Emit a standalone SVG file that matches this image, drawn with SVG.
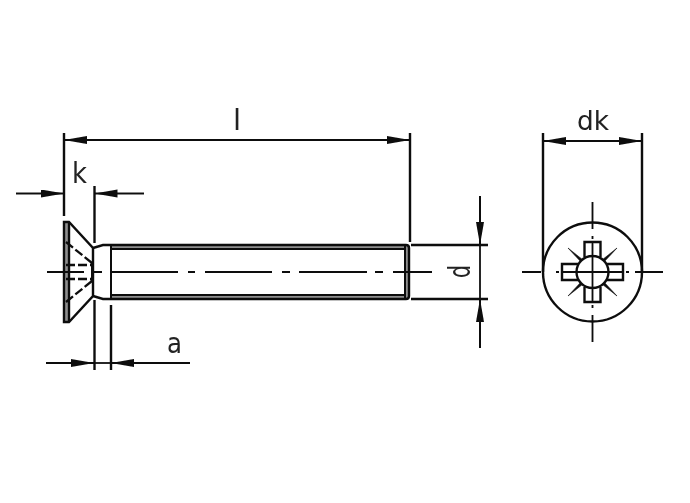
<svg xmlns="http://www.w3.org/2000/svg" width="690" height="503" viewBox="0 0 690 503">
<style>
.l{fill:none;stroke:#111;stroke-width:2.4}
.t{fill:none;stroke:#111;stroke-width:2}
.c{fill:none;stroke:#111;stroke-width:1.8}
.h{fill:none;stroke:#111;stroke-width:2.3;stroke-dasharray:9 3}
.g{fill:#8f8f8f;stroke:none}
.a{fill:none;stroke:#111;stroke-width:2;marker-end:url(#ah)}
.w{fill:#111;stroke:#111;stroke-width:.6;stroke-linejoin:round}
text{font-family:"DejaVu Sans","Liberation Sans",sans-serif;fill:#222}
</style>
<defs>
<marker id="ah" markerUnits="userSpaceOnUse" markerWidth="24" markerHeight="10" refX="23" refY="4" orient="auto"><path d="M0 0L23 4L0 8Z" fill="#111"/></marker>
<filter id="soft" x="0" y="0" width="100%" height="100%"><feGaussianBlur stdDeviation="0.45"/></filter>
</defs>
<rect width="690" height="503" fill="#fff"/>
<g filter="url(#soft)">
<g id="screw-side">
<rect class="g" x="64" y="223" width="5" height="98"/>
<rect class="g" x="111" y="245" width="298" height="4"/>
<rect class="g" x="111" y="295" width="298" height="4"/>
<rect class="g" x="405" y="247" width="4" height="50"/>
<path class="l" d="M64 222V322H69L93 296V248L69 222Z"/>
<path class="l" d="M69 222V322"/>
<path class="l" d="M93 248L103 245H406Q409 245 409 248V296Q409 299 406 299H103L93 296"/>
<path class="t" d="M111 245V299M111 249H405V295H111"/>
<path class="t" d="M405 245V299"/>
<path class="h" d="M66 242L92 263M66 302L92 281M66 265H92M66 279H92"/>
<path class="t" d="M92 262V282"/>
<path class="c" d="M47 272H84M93 272H102M112 272H178M188 272H195M205 272H272M282 272H290M299 272H367M375 272H383M393 272H432"/>
</g>
<g id="screw-end">
<circle class="l" cx="592.5" cy="272" r="49.5"/>
<path class="w" d="M568 248L583 260L581 262ZM617 248L602 260L604 262ZM568 296L583 284L581 282ZM617 296L602 284L604 282Z"/>
<circle class="l" cx="592.5" cy="272" r="16" style="fill:#fff"/>
<path class="l" d="M584.500 257V242H600.500V257M584.500 287V302H600.500V287M578 264H562V280H578M607 264H623V280H607"/>
<path class="c" d="M522 272H541M556 272H559M562 272H623M626 272H629M635 272H663M592.500 202V229M592.500 236V239M592.500 242V302M592.500 305V308M592.500 315V342"/>
</g>
<g id="connectors">
<path class="l" d="M64 133V216M410 133V242M94.500 186V243M94.500 300V370M111 305V370"/>
<path class="a" d="M100 140H64"/>
<path class="a" d="M375 140H410"/>
<path class="c" d="M64 140H410"/>
<path class="a" d="M16 193.500H64"/>
<path class="a" d="M144 193.500H94.500"/>
<path class="a" d="M46 363H94"/>
<path class="a" d="M190 363H111"/>
<path class="c" d="M94 363H111"/>
<path class="l" d="M411 245H488M411 299H488"/>
<path class="a" d="M480 196V245"/>
<path class="a" d="M480 348V299"/>
<path class="c" d="M480 245V299"/>
<path class="l" d="M543 133V272M642 133V272"/>
<path class="a" d="M580 141H543"/>
<path class="a" d="M605 141H642"/>
<path class="c" d="M543 141H642"/>
</g>
<g id="labels">
<text x="233" y="130" font-size="29">l</text>
<text x="72" y="183" font-size="29" textLength="15" lengthAdjust="spacingAndGlyphs">k</text>
<text x="167" y="353" font-size="28" textLength="15" lengthAdjust="spacingAndGlyphs">a</text>
<text x="577" y="130" font-size="26" textLength="32" lengthAdjust="spacingAndGlyphs">dk</text>
<text transform="translate(470 278) rotate(-90)" font-size="31" textLength="13" lengthAdjust="spacingAndGlyphs">d</text>
</g>
</g>
</svg>
